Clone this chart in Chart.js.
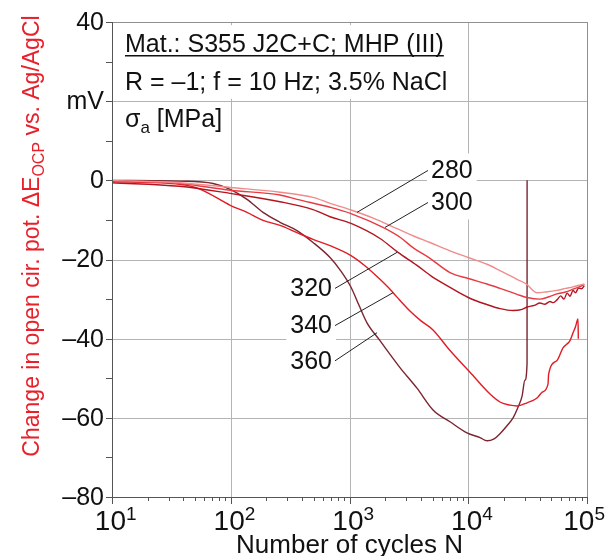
<!DOCTYPE html>
<html lang="en">
<head>
<meta charset="UTF-8" />
<title>Open circuit potential vs. cycles</title>
<script src="https://cdn.jsdelivr.net/npm/chart.js"></script>
<style>
  html, body { margin: 0; padding: 0; background: #fff; }
  #chart { display: block; }
</style>
</head>
<body>
<canvas id="chart" width="606" height="556"></canvas>
<script>
// stress amplitudes sigma_a [MPa]
const stresses = [280, 300, 320, 340, 360];

// number of cycles N / change in OCP [mV]
const n280 = [10, 37, 99, 260, 493, 686, 1030, 1600, 2512, 3424, 4760, 7020, 10000, 14390, 18500, 25760, 31270, 35000, 38000, 45000, 55900, 66000, 76300, 86000, 95000];
const mv280 = [0, -0.6, -1.8, -3, -4.3, -5.8, -7.5, -9.6, -12.2, -14, -15.7, -17.8, -19.5, -21.2, -22.8, -25, -26.3, -27.8, -28.4, -28.2, -27.8, -27.3, -26.9, -26.5, -26.2];

const n300 = [10, 37, 99, 260, 361, 686, 1030, 1914, 2700, 3424, 4760, 7020, 10000, 14390, 18500, 25760, 31270, 40200, 48000, 55900, 66000, 76300, 86000, 95000];
const mv300 = [-0.3, -0.8, -2.5, -3.7, -4.8, -6.8, -8.4, -11.9, -14.5, -17, -19.7, -23.3, -24.8, -26.2, -27.3, -28.8, -29.6, -30, -29.4, -28.7, -28.2, -27.5, -26.9, -26.3];

const n320 = [10, 37, 99, 260, 493, 686, 1030, 1806, 2561, 3700, 5050, 6620, 10000, 14390, 18500, 23840, 28400, 31270, 36000, 40200, 44000, 48800, 52000, 55900, 60000, 64000, 68000, 72000, 76300, 80000, 85000, 90000, 95000];
const mv320 = [-0.6, -1.5, -3.3, -5.4, -7.4, -9.2, -10.9, -14.7, -18.2, -21.5, -24.5, -26.6, -29.6, -31.4, -32.4, -32.9, -32.6, -32, -31.6, -31, -31.3, -30.6, -30.9, -30.2, -29.2, -30, -28.5, -29.3, -27.8, -28.4, -27.2, -27.4, -26.6];

const n340 = [10, 37, 55, 99, 137, 187, 260, 361, 493, 686, 1030, 1404, 1806, 2192, 2512, 3228, 4000, 5050, 7020, 10350, 15250, 18500, 22480, 25760, 31270, 37950, 42000, 46950, 47500, 55900, 62800, 67000, 71900, 76300, 80000, 84000, 84500];
const mv340 = [-0.3, -1, -2.2, -6.3, -8.1, -10.1, -11.4, -13.2, -14.9, -16.5, -19, -22, -25, -27.5, -29.5, -33, -35.5, -37.8, -43, -48.5, -54, -56, -56.8, -57, -56.2, -55, -53.5, -51.5, -49, -45.5, -42.3, -41.5, -40.5, -38.5, -37, -35, -40];

const n360 = [10, 37, 71, 99, 137, 187, 260, 361, 493, 686, 850, 1030, 1200, 1404, 1806, 2660, 3700, 5050, 7020, 9750, 12570, 14390, 16500, 18500, 21200, 23840, 26500, 28400, 30000, 31270, 31300];
const mv360 = [0, -0.2, -0.8, -2.3, -4.8, -8.1, -10.6, -12.7, -15.7, -19.5, -23, -27, -31.5, -36, -40.5, -47.3, -52.5, -58, -61, -63.8, -65, -65.8, -65.3, -64, -62, -60, -57, -54.5, -50.5, -46.3, 0];

const cycles = [n280, n300, n320, n340, n360];
const potentials = [mv280, mv300, mv320, mv340, mv360];

// axis ticks
const xDecades = [1, 2, 3, 4, 5];
const yTicks = [40, 20, 0, -20, -40, -60, -80];
const yTickLabels = ['40', 'mV', '0', '–20', '–40', '–60', '–80'];

const colors = ['#f08c8c', '#e83a42', '#b3141f', '#e01c24', '#7c2430'];
const FONT = '"Liberation Sans", Arial, sans-serif';

// leader lines from curve (N, mV) to label (N, mV)
const leaders = [
  { from: [1156, -8.1], to: [4580, 2.5], side: 'right' },
  { from: [1991, -11.9], to: [4580, -5.6], side: 'right' },
  { from: [2512, -18.2], to: [755, -27.3], side: 'left' },
  { from: [2323, -28.4], to: [755, -36.7], side: 'left' },
  { from: [1706, -38.5], to: [755, -45.6], side: 'left' }
];

function labelBox(ctx, x, y, i) {
  const l = leaders[i];
  const px = x.getPixelForValue(l.to[0]);
  const py = y.getPixelForValue(l.to[1]);
  ctx.font = '25px ' + FONT;
  const w = ctx.measureText(String(stresses[i])).width;
  const left = l.side === 'right' ? px + 3 : px - 3 - w;
  return { left, top: py - 10, w, h: 20, mid: py + 1 };
}

const decor = {
  id: 'decor',
  beforeDatasetsDraw(chart) {
    const { ctx, chartArea: a, scales: { x, y } } = chart;
    ctx.save();
    // grid
    ctx.strokeStyle = '#b4b4b4';
    ctx.lineWidth = 1;
    ctx.beginPath();
    xDecades.forEach(k => {
      const px = Math.round(x.getPixelForValue(Math.pow(10, k))) + 0.5;
      ctx.moveTo(px, a.top); ctx.lineTo(px, a.bottom);
    });
    yTicks.forEach(v => {
      const py = Math.round(y.getPixelForValue(v)) + 0.5;
      ctx.moveTo(a.left, py); ctx.lineTo(a.right, py);
    });
    ctx.stroke();

    // white boxes behind the texts
    ctx.fillStyle = '#fff';
    const bt = y.getPixelForValue(39.2), bb = y.getPixelForValue(20.6);
    ctx.fillRect(a.left + 1, bt, x.getPixelForValue(9400) - a.left - 1, bb - bt);
    stresses.forEach((s, i) => {
      const b = labelBox(ctx, x, y, i);
      ctx.fillRect(b.left - 4, b.top - 7, b.w + 8, b.h + 14);
    });
    ctx.restore();
  },
  afterDatasetsDraw(chart) {
    const { ctx, chartArea: a, scales: { x, y } } = chart;
    ctx.save();

    // frame
    ctx.lineWidth = 1;
    ctx.strokeStyle = '#909090';
    ctx.beginPath();
    ctx.moveTo(a.left, Math.round(a.top) + 0.5); ctx.lineTo(a.right, Math.round(a.top) + 0.5);
    ctx.moveTo(Math.round(a.right) + 0.5, a.top); ctx.lineTo(Math.round(a.right) + 0.5, a.bottom);
    ctx.stroke();
    ctx.strokeStyle = '#555';
    ctx.beginPath();
    ctx.moveTo(Math.round(a.left) + 0.5, a.top); ctx.lineTo(Math.round(a.left) + 0.5, a.bottom + 1);
    ctx.moveTo(a.left, Math.round(a.bottom) + 0.5); ctx.lineTo(a.right, Math.round(a.bottom) + 0.5);
    // y ticks every 10 mV
    for (let v = -80; v <= 40; v += 10) {
      const py = Math.round(y.getPixelForValue(v)) + 0.5;
      ctx.moveTo(a.left - 6, py); ctx.lineTo(a.left, py);
    }
    // x ticks, decades longer
    for (let k = 1; k <= 5; k++) {
      for (let m = 1; m <= 9; m++) {
        if (k === 5 && m > 1) break;
        const px = Math.round(x.getPixelForValue(m * Math.pow(10, k))) + 0.5;
        ctx.moveTo(px, a.bottom);
        ctx.lineTo(px, a.bottom + (m === 1 ? 7 : 4));
      }
    }
    ctx.stroke();

    // tick labels
    ctx.fillStyle = '#111';
    ctx.font = '25px ' + FONT;
    ctx.textAlign = 'right';
    ctx.textBaseline = 'middle';
    yTicks.forEach((v, i) => {
      ctx.fillText(yTickLabels[i], a.left - 8, y.getPixelForValue(v) + 1);
    });
    ctx.textBaseline = 'alphabetic';
    xDecades.forEach(k => {
      const px = x.getPixelForValue(Math.pow(10, k));
      ctx.font = '19px ' + FONT;
      const we = ctx.measureText(String(k)).width;
      const r = Math.min(px + 14, chart.width - we - 1);
      ctx.textAlign = 'left';
      ctx.fillText(String(k), r, a.bottom + 23);
      ctx.font = '28px ' + FONT;
      ctx.textAlign = 'right';
      ctx.fillText('10', r, a.bottom + 33);
    });

    // axis titles
    ctx.font = '26px ' + FONT;
    ctx.textAlign = 'center';
    ctx.fillText('Number of cycles N', (a.left + a.right) / 2, 553);

    ctx.fillStyle = '#e8202a';
    ctx.textAlign = 'left';
    const p1 = 'Change in open cir. pot. ΔE', p2 = 'OCP', p3 = ' vs. Ag/AgCl';
    ctx.font = '23px ' + FONT;
    const w1 = ctx.measureText(p1).width, w3 = ctx.measureText(p3).width;
    ctx.font = '16px ' + FONT;
    const w2 = ctx.measureText(p2).width;
    const total = w1 + w2 + w3;
    ctx.save();
    ctx.translate(39, 236 + total / 2);
    ctx.rotate(-Math.PI / 2);
    ctx.font = '23px ' + FONT;
    ctx.fillText(p1, 0, 0);
    ctx.font = '16px ' + FONT;
    ctx.fillText(p2, w1, 5);
    ctx.font = '23px ' + FONT;
    ctx.fillText(p3, w1 + w2, 0);
    ctx.restore();

    // header text
    ctx.fillStyle = '#111';
    ctx.font = '25px ' + FONT;
    const hx = a.left + 13;
    const line1 = 'Mat.: S355 J2C+C; MHP (III)';
    ctx.fillText(line1, hx, a.top + 30);
    ctx.fillRect(hx, a.top + 33, ctx.measureText(line1).width, 1.5);
    ctx.fillText('R = –1; f = 10 Hz; 3.5% NaCl', hx, a.top + 68);
    ctx.fillText('σ', hx, a.top + 105);
    const ws = ctx.measureText('σ').width;
    ctx.font = '17px ' + FONT;
    ctx.fillText('a', hx + ws, a.top + 111);
    const wa = ctx.measureText('a').width;
    ctx.font = '25px ' + FONT;
    ctx.fillText(' [MPa]', hx + ws + wa, a.top + 105);

    // leader lines and stress labels
    ctx.strokeStyle = '#222';
    ctx.lineWidth = 1;
    ctx.beginPath();
    leaders.forEach(l => {
      ctx.moveTo(x.getPixelForValue(l.from[0]), y.getPixelForValue(l.from[1]));
      ctx.lineTo(x.getPixelForValue(l.to[0]), y.getPixelForValue(l.to[1]));
    });
    ctx.stroke();
    ctx.textBaseline = 'middle';
    stresses.forEach((s, i) => {
      const b = labelBox(ctx, x, y, i);
      ctx.textAlign = 'left';
      ctx.fillText(String(s), b.left, b.mid);
    });
    ctx.restore();
  }
};

new Chart(document.getElementById('chart'), {
  type: 'line',
  data: {
    datasets: stresses.map((s, i) => ({
      label: s + ' MPa',
      data: cycles[i].map((n, k) => ({ x: n, y: potentials[i][k] })),
      borderColor: colors[i],
      borderWidth: 1.4,
      pointRadius: 0,
      cubicInterpolationMode: 'monotone',
      fill: false,
      borderJoinStyle: 'round'
    }))
  },
  options: {
    responsive: false,
    animation: false,
    events: [],
    layout: { padding: { top: 22, right: 19, left: 0, bottom: 0 } },
    plugins: { legend: { display: false }, tooltip: { enabled: false } },
    scales: {
      x: {
        type: 'logarithmic',
        min: 10,
        max: 100000,
        grid: { display: false },
        border: { display: false },
        ticks: { display: false },
        afterFit(scale) { scale.height = 59; }
      },
      y: {
        min: -80,
        max: 40,
        grid: { display: false },
        border: { display: false },
        ticks: { display: false, stepSize: 10 },
        afterFit(scale) { scale.width = 112; }
      }
    }
  },
  plugins: [decor]
});
</script>
</body>
</html>
